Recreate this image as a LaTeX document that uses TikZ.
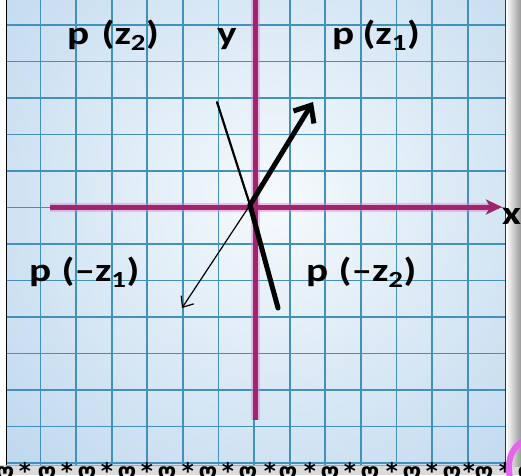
\documentclass[tikz,border=0pt]{standalone}
\usepackage{fontspec}
\usepackage{graphicx}
\setmainfont{Carlito}
\newfontfamily\dejavu{DejaVu Sans}
\usetikzlibrary{arrows.meta}
\definecolor{gridc}{RGB}{66,145,186}
\definecolor{axisc}{RGB}{158,38,108}
\definecolor{axisglow}{RGB}{240,120,210}
\definecolor{bgout}{RGB}{184,212,236}
\definecolor{bgin}{RGB}{246,250,253}
\definecolor{swoosh}{RGB}{228,100,235}
\newcommand{\widetext}[1]{\scalebox{1.25}[1]{#1}}
\begin{document}
\begin{tikzpicture}[x=1pt,y=-1pt,
  lbl/.style={font=\fontsize{33}{33}\selectfont\bfseries, inner sep=0pt, anchor=base west},
  gridline/.style={gridc, line width=1.7pt},
  axisline/.style={axisc, line width=5pt},
  glowline/.style={axisglow, line width=9pt, opacity=0.45},
  deco/.style={font=\dejavu\bfseries\fontsize{23}{23}\selectfont, inner sep=0pt, anchor=base},
  vec/.style={black, line cap=round, line join=round}]
\useasboundingbox (0,0) rectangle (521,475);
\fill[white] (0,0) rectangle (521,475);
% bottom strip and right shadow
\fill[gray!28] (0,465) rectangle (521,475);
\shade[left color=white, right color=gray!80] (506,-2) rectangle (521,466);
% panel background
\begin{scope}
  \clip (6,-2) rectangle (505,465);
  \fill[bgout] (6,-2) rectangle (505,465);
  \shade[inner color=bgin, outer color=bgout] (275,200) circle (420);
  \foreach \i in {0,...,13} \draw[gridline] ({4.9+35.6*\i},-2) -- ({4.9+35.6*\i},465);
  \foreach \j in {0,...,12} \draw[gridline] (6,{25+36.5*\j}) -- (505,{25+36.5*\j});
\end{scope}
\draw[black, line width=1pt] (6,-2) -- (6,465);
\draw[black!80, line width=1pt] (505,-2) -- (505,465);
\draw[gray!70, line width=0.6pt] (6,465) -- (505,465);
% axes
\coordinate (ytop) at (255,-2);
\coordinate (ybot) at (255,420);
\coordinate (xl) at (50,207);
\coordinate (xr) at (502,207);
\draw[glowline] (ytop) -- (ybot);
\draw[glowline] (xl) -- (488,207);
\draw[axisline] (ytop) -- (ybot);
\draw[axisline, -{Stealth[length=16pt, width=15pt, inset=4pt]}] (xl) -- (xr);
% vectors
\coordinate (O) at (250,205);
\coordinate (z1) at (313,102);
\coordinate (z2) at (217,102);
\coordinate (mz1) at (182,308);
\coordinate (mz2) at (278,308);
\draw[vec, line width=2.2pt] (z2) -- (O);
\draw[vec, line width=5pt] (O) -- (mz2);
\draw[vec, line width=5pt, -{Straight Barb[length=14pt, width=24pt]}] (O) -- (z1);
\draw[vec, line width=1.2pt, -{Straight Barb[length=9pt, width=15pt]}] (O) -- (mz1);
% labels
\node[lbl] (lz2) at (67,44) {\widetext{p\hspace{0.3em}(z\textsubscript{2})}};
\node[lbl] (ly) at (217,44) {\widetext{y}};
\node[lbl] (lz1) at (332,44) {\widetext{p\hspace{0.2em}(z\textsubscript{1})}};
\node[lbl] (lmz1) at (29,281) {\widetext{p\hspace{0.25em}(–z\textsubscript{1})}};
\node[lbl] (lmz2) at (306,281) {\widetext{p\hspace{0.25em}(–z\textsubscript{2})}};
\node[lbl] (lx) at (502,224) {\widetext{x}};
% decorative row
\foreach \p [count=\k] in {5,47,87,127,167,208,248,288,330,370,412,452,484}
  \node[deco] (h\k) at (\p,479) {ღ};
\foreach \p [count=\k] in {25,67,107,147,188,228,270,310,350,392,432,469,505}
  \node[deco] (s\k) at (\p,479) {*};
\node[deco] (hend) at (527,479) {ღ};
% pink swoosh
\draw[swoosh, line width=6pt, line cap=round] (510,478) .. controls (507,462) and (510,449) .. (523,441);
\end{tikzpicture}
\end{document}
